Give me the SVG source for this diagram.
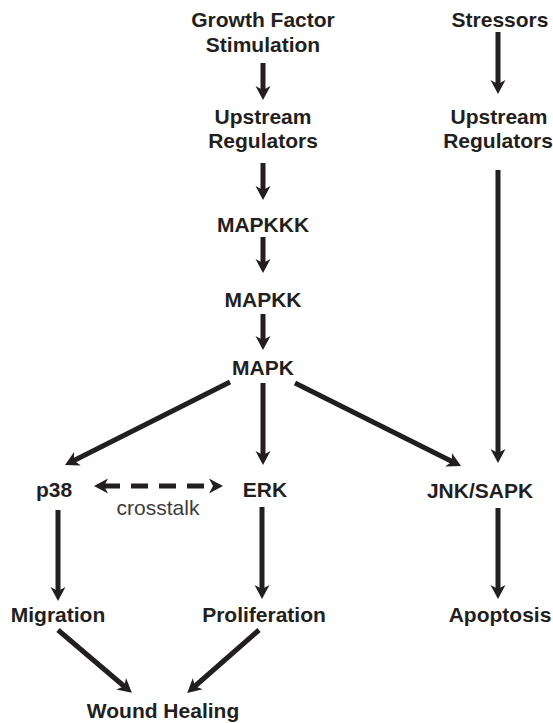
<svg xmlns="http://www.w3.org/2000/svg" width="553" height="723" viewBox="0 0 553 723">
<style>
.lbl{font-family:"Liberation Sans",Arial,Helvetica,sans-serif;font-weight:bold;font-size:21px;fill:#231f20;text-anchor:middle}
.note{font-family:"Liberation Sans",Arial,Helvetica,sans-serif;font-size:21px;fill:#3c3c3c;text-anchor:middle}
.arr{stroke:#231f20;stroke-width:5;fill:none;marker-end:url(#ah)}
.dash{stroke:#231f20;stroke-width:5;fill:none;stroke-dasharray:17 11;marker-end:url(#ah);marker-start:url(#ah)}
</style>
<defs>
<marker id="ah" markerUnits="userSpaceOnUse" markerWidth="20" markerHeight="20" viewBox="-2 -10 20 20" refX="5" refY="0" orient="auto-start-reverse" overflow="visible">
<path d="M0,-7.5 L14,0 L0,7.5 L4,0 Z" fill="#231f20"/>
</marker>
</defs>
<rect width="553" height="723" fill="#ffffff"/>
<g id="connectors">
<line class="arr" x1="263" y1="63" x2="263" y2="91"/>
<line class="arr" x1="263" y1="163" x2="263" y2="191"/>
<line class="arr" x1="263" y1="237" x2="263" y2="264"/>
<line class="arr" x1="263" y1="314" x2="263" y2="341"/>
<line class="arr" x1="498" y1="32" x2="498" y2="85"/>
<line class="arr" x1="498" y1="170" x2="498" y2="454"/>
<line class="arr" x1="230" y1="382" x2="73" y2="461"/>
<line class="arr" x1="263" y1="383" x2="263" y2="456"/>
<line class="arr" x1="295" y1="383" x2="453" y2="462"/>
<line class="dash" x1="103" y1="486" x2="214" y2="486"/>
<line class="arr" x1="58" y1="510" x2="58" y2="592"/>
<line class="arr" x1="262" y1="507" x2="262" y2="590"/>
<line class="arr" x1="498" y1="508" x2="498" y2="590"/>
<line class="arr" x1="58" y1="630" x2="125" y2="687"/>
<line class="arr" x1="259" y1="630" x2="194" y2="687"/>
</g>
<g id="growth-factor"><text class="lbl" x="263" y="27">Growth Factor</text><text class="lbl" x="263" y="52">Stimulation</text></g>
<g id="upstream-1"><text class="lbl" x="263" y="124">Upstream</text><text class="lbl" x="263" y="148">Regulators</text></g>
<g id="mapkkk"><text class="lbl" x="263" y="232">MAPKKK</text></g>
<g id="mapkk"><text class="lbl" x="263" y="307">MAPKK</text></g>
<g id="mapk"><text class="lbl" x="263" y="375">MAPK</text></g>
<g id="stressors"><text class="lbl" x="500" y="27">Stressors</text></g>
<g id="upstream-2"><text class="lbl" x="499" y="124">Upstream</text><text class="lbl" x="498" y="148">Regulators</text></g>
<g id="p38"><text class="lbl" x="54" y="497">p38</text></g>
<g id="erk"><text class="lbl" x="265" y="497">ERK</text></g>
<g id="jnk"><text class="lbl" x="480" y="498">JNK/SAPK</text></g>
<g id="crosstalk"><text class="note" x="158" y="515">crosstalk</text></g>
<g id="migration"><text class="lbl" x="58" y="622">Migration</text></g>
<g id="proliferation"><text class="lbl" x="264" y="622">Proliferation</text></g>
<g id="apoptosis"><text class="lbl" x="500" y="622">Apoptosis</text></g>
<g id="wound-healing"><text class="lbl" x="163" y="718">Wound Healing</text></g>
</svg>
